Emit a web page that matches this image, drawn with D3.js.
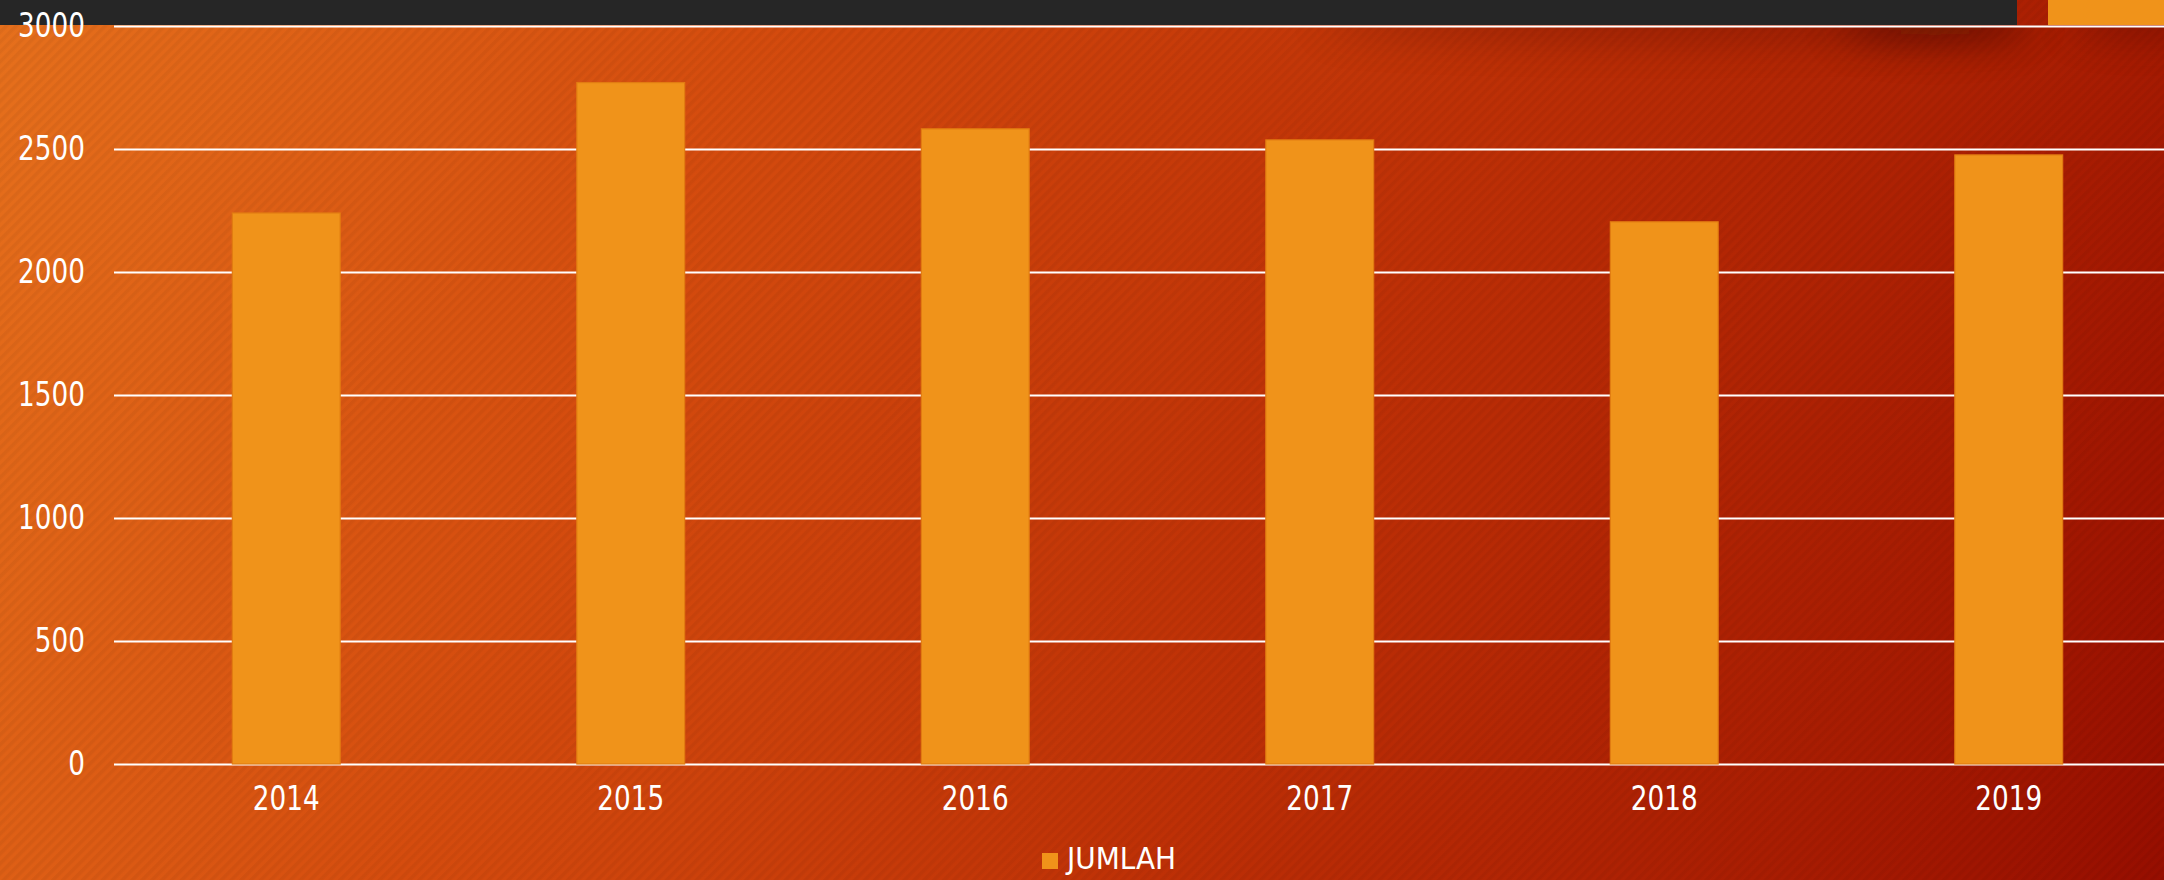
<!DOCTYPE html>
<html>
<head>
<meta charset="utf-8">
<script src="https://cdn.jsdelivr.net/npm/d3@7/dist/d3.min.js"></script>
<style>
  html, body { margin: 0; padding: 0; background: #c83a0a; overflow: hidden; }
  svg { display: block; }
  text { font-family: "DejaVu Sans Condensed", "DejaVu Sans", sans-serif; fill: #ffffff; }
</style>
</head>
<body>
<svg id="chart" width="2164" height="880"></svg>
<script>
// ---- data ----
const categories = ["2014", "2015", "2016", "2017", "2018", "2019"];
const jumlah = [2240, 2770, 2582, 2537, 2204, 2476];
const yTicks = [0, 500, 1000, 1500, 2000, 2500, 3000];
const seriesName = "JUMLAH";

// ---- layout ----
const W = 2164, H = 880;
const plot = { left: 114, right: 2181, top: 26, bottom: 764 };
const barColor = "#F0931A";
const FS = 34, SX = 0.86;

const svg = d3.select("#chart");
const defs = svg.append("defs");

// background gradient
const grad = defs.append("linearGradient").attr("id", "bg")
  .attr("gradientUnits", "userSpaceOnUse")
  .attr("x1", 0).attr("y1", 0).attr("x2", 2164).attr("y2", 880);
[[0, "#E6701C"], [0.3, "#D54C0E"], [0.6, "#BE3006"], [0.85, "#A81C02"], [1, "#970E00"]]
  .forEach(([o, c]) => grad.append("stop").attr("offset", o).attr("stop-color", c));

// diagonal stripe texture ("/" direction)
const pat = defs.append("pattern").attr("id", "stripes")
  .attr("patternUnits", "userSpaceOnUse").attr("width", 7).attr("height", 7)
  .attr("patternTransform", "rotate(45)");
pat.append("rect").attr("width", 3.5).attr("height", 7).attr("fill", "#000").attr("opacity", 0.045);

// blur filter for shadows
const f = defs.append("filter").attr("id", "blur").attr("x", "-50%").attr("y", "-200%").attr("width", "200%").attr("height", "500%");
f.append("feGaussianBlur").attr("stdDeviation", 20);
defs.append("clipPath").attr("id", "belowBand").append("rect")
  .attr("x", 0).attr("y", 26).attr("width", W).attr("height", H);

svg.append("rect").attr("width", W).attr("height", H).attr("fill", "url(#bg)");
svg.append("rect").attr("width", W).attr("height", H).attr("fill", "url(#stripes)");

// soft shadows below the top band
const sh = svg.append("g").attr("clip-path", "url(#belowBand)");
sh.append("ellipse").attr("cx", 1680).attr("cy", 22).attr("rx", 360).attr("ry", 14)
  .attr("fill", "#3a0800").attr("opacity", 0.35).attr("filter", "url(#blur)");
sh.append("ellipse").attr("cx", 1935).attr("cy", 24).attr("rx", 95).attr("ry", 16)
  .attr("fill", "#3a0800").attr("opacity", 0.6).attr("filter", "url(#blur)");
sh.append("ellipse").attr("cx", 2140).attr("cy", 22).attr("rx", 70).attr("ry", 12)
  .attr("fill", "#3a0800").attr("opacity", 0.45).attr("filter", "url(#blur)");

// top band
svg.append("rect").attr("x", 0).attr("y", 0).attr("width", 2017).attr("height", 25).attr("fill", "#262626");
svg.append("rect").attr("x", 2048).attr("y", 0).attr("width", W - 2048).attr("height", 25).attr("fill", barColor);

// ---- scales ----
const x = d3.scaleBand().domain(categories).range([plot.left, plot.right])
  .paddingInner(0.687).paddingOuter(0.3435);
const y = d3.scaleLinear().domain([0, 3000]).range([plot.bottom, plot.top]);

// gridlines + y labels
const yAxis = d3.axisLeft(y).tickValues(yTicks).tickFormat(d3.format("d"))
  .tickSize(-(plot.right - plot.left)).tickPadding(29);
const gy = svg.append("g").attr("transform", `translate(${plot.left},0)`).call(yAxis);
gy.select(".domain").remove();
gy.selectAll(".tick line").attr("stroke", "#ffffff").attr("stroke-width", 2);
gy.selectAll(".tick text").attr("font-size", FS).attr("fill", "#fff")
  .attr("x", -29 / SX).attr("transform", `scale(${SX},1)`);

// bars
svg.append("g").selectAll("rect").data(jumlah).join("rect")
  .attr("x", (d, i) => x(categories[i]))
  .attr("y", d => y(d))
  .attr("width", x.bandwidth())
  .attr("height", d => y(0) - y(d))
  .attr("fill", barColor)
  .attr("stroke", "#E27C12").attr("stroke-width", 1.2);

// x axis labels
const xAxis = d3.axisBottom(x).tickSize(0).tickPadding(22);
const gx = svg.append("g").attr("transform", `translate(0,${plot.bottom})`).call(xAxis);
gx.select(".domain").remove();
gx.selectAll(".tick text").attr("font-size", FS).attr("fill", "#fff")
  .attr("transform", `scale(${SX},1)`);

// legend
const lg = svg.append("g").attr("transform", "translate(1042,853)");
lg.append("rect").attr("width", 16).attr("height", 16).attr("fill", barColor);
lg.append("text").attr("x", 25).attr("y", 16).attr("font-size", 31).text(seriesName);
</script>
</body>
</html>
